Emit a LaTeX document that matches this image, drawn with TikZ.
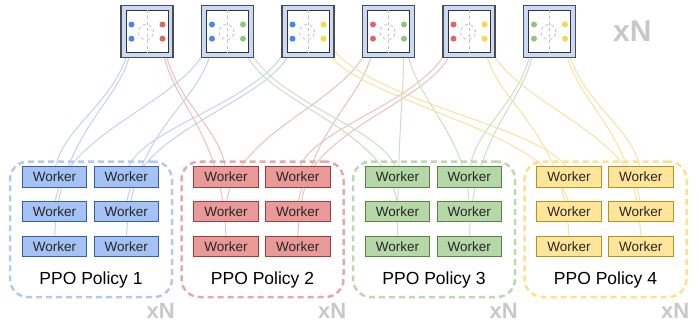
\documentclass[tikz,border=0pt]{standalone}
\usepackage{fontspec}
\setmainfont{Liberation Sans}
\usetikzlibrary{calc}
\pgfdeclarelayer{bg}
\pgfsetlayers{bg,main}
\definecolor{wblue}{HTML}{A4C2F4}\definecolor{bblue}{HTML}{3C78D8}\definecolor{gblue}{HTML}{B4C9EE}\definecolor{dblue}{HTML}{4A86E8}\definecolor{lblue}{HTML}{C3D2EE}
\definecolor{wred}{HTML}{EA9999}\definecolor{bred}{HTML}{CC4A4A}\definecolor{gred}{HTML}{E9A8A8}\definecolor{dred}{HTML}{E06666}\definecolor{lred}{HTML}{EBC0C0}
\definecolor{wgreen}{HTML}{B6D7A8}\definecolor{bgreen}{HTML}{6AA84F}\definecolor{ggreen}{HTML}{BBD8AF}\definecolor{dgreen}{HTML}{93C47D}\definecolor{lgreen}{HTML}{CCDEC5}
\definecolor{wyellow}{HTML}{FFE599}\definecolor{byellow}{HTML}{E6B422}\definecolor{gyellow}{HTML}{FFE08A}\definecolor{dyellow}{HTML}{FFD54F}\definecolor{lyellow}{HTML}{F8E0A0}
\definecolor{boxfill}{HTML}{C9DAF8}\definecolor{xgray}{HTML}{C8C8C8}
\begin{document}
\begin{tikzpicture}[x=1pt,y=-1pt,
  worker/.style={draw=#1!80!black, line width=1pt, minimum width=64.5pt, minimum height=20.5pt, inner sep=0pt, text=black!85, font=\fontsize{13.5pt}{15pt}\selectfont},
  grp/.style={draw=#1, dash pattern=on 6pt off 4pt, line width=2.5pt, rounded corners=18pt, minimum width=162pt, minimum height=135.5pt, inner sep=0pt},
  outerbox/.style={draw=black!70, fill=boxfill, line width=1.5pt, minimum size=52pt, inner sep=0pt},
  innerbox/.style={draw=black!80, fill=white, line width=1pt, minimum size=42pt, inner sep=0pt},
  ghost/.style={draw=black!25, dashed, line width=0.8pt},
  dot/.style={circle, fill=#1, minimum size=6pt, inner sep=0pt},
  link/.style={draw=#1, line width=1pt},
  xn/.style={text=xgray, font=\bfseries\fontsize{#1}{#1}\selectfont, inner sep=0pt},
  pol/.style={font=\fontsize{17.5pt}{20pt}\selectfont, inner sep=0pt}]
\useasboundingbox (0,0) rectangle (699,322);
\coordinate (sctl) at (0,100);
\coordinate (ectl) at (0,125);
% top boxes
\foreach \b/\lc/\rc in {1/dblue/dred,2/dblue/dgreen,3/dblue/dyellow,4/dred/dgreen,5/dred/dyellow,6/dgreen/dyellow}{
  \pgfmathsetmacro{\X}{147+80.5*(\b-1)}
  \node[outerbox] (box\b) at (\X,31.5) {};
  \node[innerbox] (ib\b) at (box\b.center) {};
  \draw[ghost] (ib\b.north) -- (ib\b.south);
  \node[circle, ghost, minimum size=15pt, inner sep=0pt] (gc\b) at ($(box\b.center)+(-1,0.5)$) {};
  \node[dot=\lc] (dLu\b) at ($(box\b.center)+(-15.5,-7)$) {};
  \node[dot=\lc] (dLl\b) at ($(box\b.center)+(-15.5,7.2)$) {};
  \node[dot=\rc] (dRu\b) at ($(box\b.center)+(15.5,-7)$) {};
  \node[dot=\rc] (dRl\b) at ($(box\b.center)+(15.5,7.2)$) {};
}
\node[xn=30pt, anchor=base west] (xtop) at (613,41.7) {xN};
% policy groups
\foreach \g/\cc in {1/blue,2/red,3/green,4/yellow}{
  \pgfmathsetmacro{\G}{10+171.5*(\g-1)}
  \node[grp=g\cc] (grp\g) at (\G+81,229.25) {};
  \foreach \c/\cx in {1/44.55,2/116.25}{
    \foreach \r/\ry in {1/177,2/211.5,3/246.5}{
      \node[worker=b\cc, fill=w\cc] (w\g\c\r) at (\G+\cx,\ry) {Worker};
    }
  }
  \node[pol] (pol\g) at (\G+81,280) {PPO Policy \g};
  \node[xn=22pt, anchor=base east] (xn\g) at (\G+165,318.5) {xN};
}
% links
\begin{pgfonlayer}{bg}
\foreach \s/\t/\c in {
  dLu1/w111/lblue, dLl1/w113/lblue, dLu2/w112/lblue, dLl2/w123/lblue, dLu3/w121/lblue, dLl3/w122/lblue,
  dRu1/w211/lred, dRl1/w213/lred, dLu4/w212/lred, dLl4/w223/lred, dLu5/w221/lred, dLl5/w222/lred,
  dRu2/w311/lgreen, dRl2/w312/lgreen, dRu4/w322/lgreen, dRl4/w313/lgreen, dLu6/w321/lgreen, dLl6/w323/lgreen,
  dRu3/w411/lyellow, dRl3/w412/lyellow, dRu5/w422/lyellow, dRl5/w413/lyellow, dRu6/w421/lyellow, dRl6/w423/lyellow}{
  \draw[link=\c] (\s.center) .. controls (\s |- sctl) and (\t |- ectl) .. (\t.center);
}
\end{pgfonlayer}
\end{tikzpicture}
\end{document}
